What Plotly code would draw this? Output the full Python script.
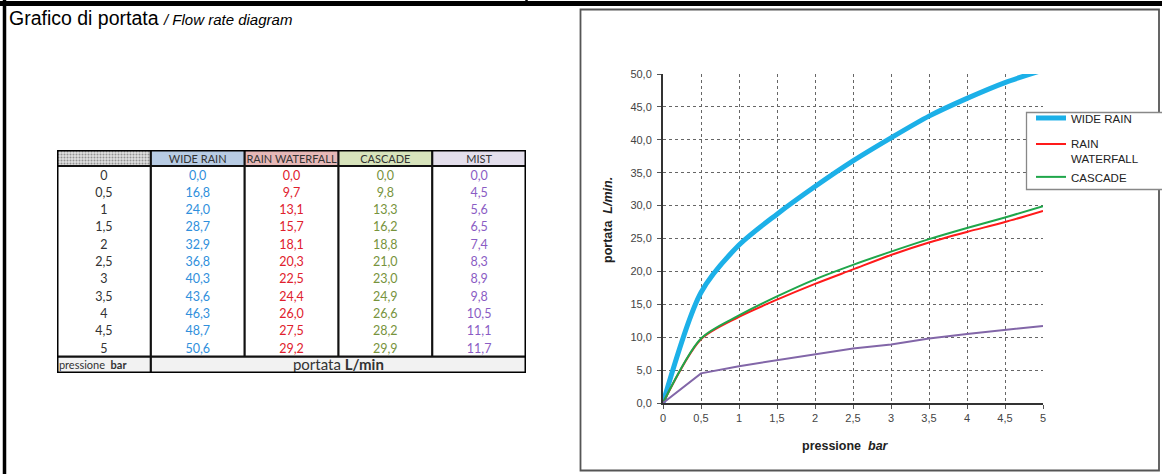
import plotly.graph_objects as go

# ---------------- data ----------------
pressure = [0, 0.5, 1, 1.5, 2, 2.5, 3, 3.5, 4, 4.5, 5]
pressure_labels = ["0", "0,5", "1", "1,5", "2", "2,5", "3", "3,5", "4", "4,5", "5"]
wide_rain = [0.0, 16.8, 24.0, 28.7, 32.9, 36.8, 40.3, 43.6, 46.3, 48.7, 50.6]
rain_waterfall = [0.0, 9.7, 13.1, 15.7, 18.1, 20.3, 22.5, 24.4, 26.0, 27.5, 29.2]
cascade = [0.0, 9.8, 13.3, 16.2, 18.8, 21.0, 23.0, 24.9, 26.6, 28.2, 29.9]
mist = [0.0, 4.5, 5.6, 6.5, 7.4, 8.3, 8.9, 9.8, 10.5, 11.1, 11.7]

series_names = ["WIDE RAIN", "RAIN WATERFALL", "CASCADE", "MIST"]
legend_names = ["WIDE RAIN", "RAIN<br>WATERFALL", "CASCADE", "MIST"]
legend_groups = ["g1", "g2", "g2", "g2"]
series_values = [wide_rain, rain_waterfall, cascade, mist]
y_ticks = [0, 5, 10, 15, 20, 25, 30, 35, 40, 45, 50]
x_ticks = [0, 0.5, 1, 1.5, 2, 2.5, 3, 3.5, 4, 4.5, 5]

# ---------------- styles ----------------
W, H = 1162, 474
line_colors = ["#1cb0e8", "#ff1a1a", "#1fa64a", "#8266a8"]
line_widths = [5, 2, 2, 2]
line_shapes = ["spline", "spline", "spline", "linear"]
text_colors = ["#2f8fdc", "#e0202c", "#77933c", "#8a5cc4"]
header_fills = ["#e0e0e0", "#b8cce4", "#e6b8b7", "#d8e4bc", "#e4dfec"]
table_font = "Lato"


def px(x):
    return x / W


def py(y):
    return 1 - y / H


fig = go.Figure()

# ---------------- chart ----------------
for name, lname, grp, vals, c, w, sh in zip(series_names, legend_names, legend_groups,
                                            series_values, line_colors, line_widths,
                                            line_shapes):
    fig.add_trace(go.Scatter(
        x=pressure, y=vals, name=lname, mode="lines", legendgroup=grp,
        line=dict(color=c, width=w, shape=sh, smoothing=0.8),
        showlegend=(name != "MIST"), cliponaxis=True,
        xaxis="x", yaxis="y",
    ))

# ---------------- table (on its own axes) ----------------
n_rows = len(pressure)
head_h = 0.925
foot_h = 0.95
text_nudge = 0.1  # glyph centring correction, in row units
row_centers = [i + 0.5 + text_nudge for i in range(n_rows)]

# header backgrounds (bars)
fig.add_trace(go.Bar(
    x=[0.5, 1.5, 2.5, 3.5, 4.5], y=[head_h] * 5, base=[-head_h] * 5, width=1,
    marker=dict(color=header_fills, line=dict(width=0),
                pattern=dict(shape=[".", "", "", "", ""], fgcolor="#8a8a8a",
                             bgcolor="#f0f0f0", size=3, solidity=0.35)),
    xaxis="x2", yaxis="y2", showlegend=False, hoverinfo="skip",
))
# footer backgrounds
fig.add_trace(go.Bar(
    x=[0.5, 3.0], y=[foot_h, foot_h], base=[n_rows, n_rows], width=[1, 4],
    marker=dict(color="#f2f2f2", line=dict(width=0)),
    xaxis="x2", yaxis="y2", showlegend=False, hoverinfo="skip",
))
# header texts
fig.add_trace(go.Scatter(
    x=[1.5, 2.5, 3.5, 4.5], y=[-head_h / 2 + text_nudge] * 4, text=series_names,
    mode="text", textfont=dict(family=table_font, size=11, color="#333333"),
    xaxis="x2", yaxis="y2", showlegend=False, hoverinfo="skip",
))
# pressure column
fig.add_trace(go.Scatter(
    x=[0.5] * n_rows, y=row_centers, text=pressure_labels, mode="text",
    textfont=dict(family=table_font, size=12.5, color="#333333"),
    xaxis="x2", yaxis="y2", showlegend=False, hoverinfo="skip",
))
for j, (vals, tc) in enumerate(zip(series_values, text_colors)):
    fig.add_trace(go.Scatter(
        x=[j + 1.5] * n_rows, y=row_centers,
        text=[f"{v:.1f}".replace(".", ",") for v in vals], mode="text",
        textfont=dict(family=table_font, size=12.5, color=tc),
        xaxis="x2", yaxis="y2", showlegend=False, hoverinfo="skip",
    ))
# footer texts
fig.add_trace(go.Scatter(
    x=[0.02], y=[n_rows + foot_h / 2 + text_nudge], text=["pressione  <b>bar</b>"],
    mode="text", textposition="middle right",
    textfont=dict(family=table_font, size=11, color="#333333"),
    xaxis="x2", yaxis="y2", showlegend=False, hoverinfo="skip",
))
fig.add_trace(go.Scatter(
    x=[3.0], y=[n_rows + foot_h / 2 + text_nudge], text=["portata <b>L/min</b>"],
    mode="text", textfont=dict(family=table_font, size=15, color="#333333"),
    xaxis="x2", yaxis="y2", showlegend=False, hoverinfo="skip",
))

shapes = []
# table grid lines
for k in range(1, 5):
    shapes.append(dict(type="line", xref="x2", yref="y2", x0=k, x1=k,
                       y0=-head_h, y1=n_rows, line=dict(color="#111", width=2.2)))
shapes.append(dict(type="line", xref="x2", yref="y2", x0=1, x1=1,
                   y0=n_rows, y1=n_rows + foot_h, line=dict(color="#111", width=2.2)))
for yy in [0, n_rows]:
    shapes.append(dict(type="line", xref="x2", yref="y2", x0=0, x1=5,
                       y0=yy, y1=yy, line=dict(color="#111", width=2.2)))
shapes.append(dict(type="rect", xref="x2", yref="y2", x0=0, x1=5,
                   y0=-head_h, y1=n_rows + foot_h, line=dict(color="#000", width=3)))

# page frame
shapes.append(dict(type="line", xref="paper", yref="paper", x0=0, x1=1,
                   y0=py(3.5), y1=py(3.5), line=dict(color="#000", width=5)))
shapes.append(dict(type="line", xref="paper", yref="paper", x0=px(4.5), x1=px(4.5),
                   y0=0, y1=1, line=dict(color="#000", width=3.5)))
shapes.append(dict(type="line", xref="paper", yref="paper", x0=px(526.5), x1=px(526.5),
                   y0=1, y1=py(4), line=dict(color="#000", width=2.5)))
# chart box
shapes.append(dict(type="rect", xref="paper", yref="paper", x0=px(580.5), x1=px(1159),
                   y0=py(470.5), y1=py(9.5), line=dict(color="#555", width=1.8)))
# legend box
shapes.append(dict(type="rect", xref="paper", yref="paper", x0=px(1026.5), x1=px(1163),
                   y0=py(189.5), y1=py(112.5), layer="above", fillcolor="white",
                   line=dict(color="#888", width=1.3)))

annotations = [
    dict(xref="paper", yref="paper", x=px(7), y=py(18), xanchor="left", yanchor="middle",
         text="Grafico di portata <i><span style='font-size:15px'>/ Flow rate diagram</span></i>",
         showarrow=False, font=dict(family="Liberation Sans, Arial", size=19.5, color="#000")),
    dict(xref="paper", yref="paper", x=px(845), y=py(446), xanchor="center", yanchor="middle",
         text="<b>pressione  <i>bar</i></b>", showarrow=False,
         font=dict(family="Liberation Sans, Arial", size=12.5, color="#222")),
    dict(xref="paper", yref="paper", x=px(608), y=py(220), xanchor="center", yanchor="middle",
         text="<b>portata  <i>L/min.</i></b>", showarrow=False, textangle=-90,
         font=dict(family="Liberation Sans, Arial", size=12.5, color="#222")),
]

fig.update_layout(
    width=W, height=H, autosize=False,
    margin=dict(l=0, r=0, t=0, b=0, pad=0, autoexpand=False),
    paper_bgcolor="white", plot_bgcolor="white",
    separators=",.",
    font=dict(family="Liberation Sans, Arial", color="#333"),
    shapes=shapes, annotations=annotations,
    barmode="overlay",
    xaxis=dict(domain=[px(663), px(1043)], range=[0, 5], tickvals=x_ticks,
               automargin=False,
               showgrid=True, gridcolor="#666", griddash="dot", gridwidth=1,
               showline=True, linecolor="#333", linewidth=2, zeroline=False,
               ticks="outside", ticklen=4, tickcolor="#555", ticklabelstandoff=0,
               tickfont=dict(size=11, color="#444")),
    yaxis=dict(domain=[py(403), py(74)], range=[0, 50], tickvals=y_ticks,
               tickformat=".1f", automargin=False,
               showgrid=True, gridcolor="#666", griddash="dot", gridwidth=1,
               showline=True, linecolor="#333", linewidth=2, zeroline=False,
               ticks="outside", ticklen=4, tickcolor="#555", ticklabelstandoff=3,
               tickfont=dict(size=11, color="#444")),
    xaxis2=dict(domain=[px(57), px(526)], range=[0, 5], visible=False,
                fixedrange=True, automargin=False),
    yaxis2=dict(domain=[py(373), py(150)], range=[n_rows + foot_h, -head_h],
                visible=False, fixedrange=True, automargin=False),
    legend=dict(x=px(1031), y=py(104), xanchor="left", yanchor="top",
                bgcolor="rgba(0,0,0,0)", borderwidth=0,
                font=dict(size=11.5, color="#222"), valign="top",
                traceorder="grouped", tracegroupgap=7, itemwidth=30),
)

fig.write_html(
    "out.html",
    config={"displayModeBar": False},
    post_script="document.body.style.margin='0';document.body.style.overflow='hidden';",
)
